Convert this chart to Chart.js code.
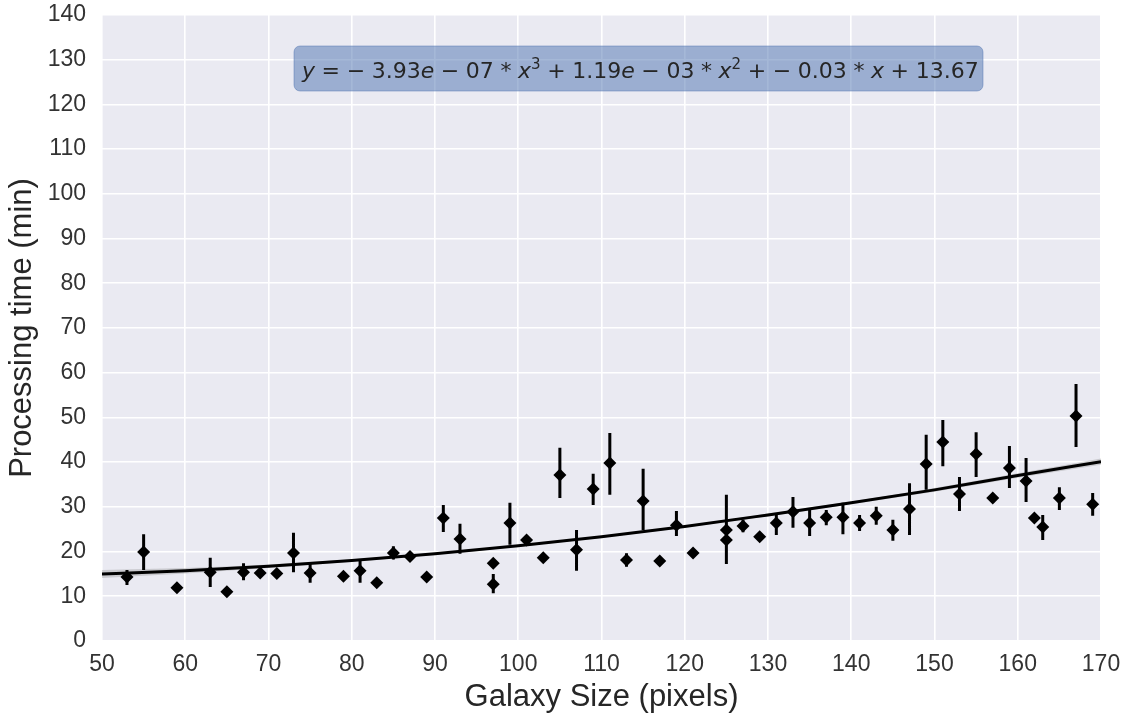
<!DOCTYPE html>
<html>
<head>
<meta charset="utf-8">
<script src="https://cdn.jsdelivr.net/npm/chart.js@4.4.1/dist/chart.umd.min.js"></script>
<style>
  html, body { margin: 0; padding: 0; background: #ffffff; }
  #wrap { width: 1128px; height: 715px; }
</style>
</head>
<body>
<div id="wrap"><canvas id="chart" width="1128" height="715"></canvas></div>
<script>
// measured points (galaxy size in pixels, processing time in minutes)
const sizes = [53, 55, 59, 63, 65, 67, 69, 71, 73, 75, 79, 81, 83, 85, 87, 89, 91, 93, 97, 97,
    99, 101, 103, 105, 107, 109, 111, 113, 115, 117, 119, 121, 125, 125, 127, 129, 131, 133, 135, 137,
    139, 141, 143, 145, 147, 149, 151, 153, 155, 157, 159, 161, 162, 163, 165, 167, 169];
const times = [14.3, 19.9, 11.9, 15.4, 11.0, 15.4, 15.2, 15.1, 19.7, 15.2, 14.5, 15.7, 13.0, 19.7, 18.9, 14.3, 27.5, 22.8, 17.4, 12.7,
    26.4, 22.6, 18.6, 37.1, 20.4, 34.0, 39.8, 18.1, 31.3, 17.9, 25.9, 19.7, 24.8, 22.6, 25.7, 23.3, 26.4, 28.9, 26.4, 27.7,
    27.7, 26.4, 28.0, 24.8, 29.5, 39.6, 44.5, 32.9, 41.8, 32.0, 38.7, 35.8, 27.5, 25.5, 32.0, 50.3, 30.6];
// error bar ends (null = no bar drawn)
const errLow = [12.5, 15.9, null, 12.1, null, 13.6, null, null, 15.4, 13.0, null, 13.0, null, 18.2, 17.9, null, 24.4, 19.5, null, 10.7,
    21.5, 21.6, null, 32.0, 15.7, 30.4, 32.7, 16.6, 24.8, null, 23.5, null, 21.5, 17.2, 24.3, null, 23.7, 25.3, 23.5, 25.9,
    23.9, 24.6, 26.0, 22.4, 23.7, 33.8, 39.1, 29.1, 36.7, 31.0, 34.2, 31.1, 26.8, 22.6, 29.3, 43.4, 28.0];
const errHigh = [15.9, 23.9, null, 18.6, null, 17.4, null, null, 24.2, 17.4, null, 18.1, null, 21.2, 19.9, null, 30.4, 26.2, null, 15.0,
    30.9, 23.6, null, 43.2, 24.8, 37.4, 46.5, 19.6, 38.5, null, 29.1, null, 32.7, 28.0, 27.1, null, 28.6, 32.2, 29.3, 29.3,
    30.9, 28.2, 30.0, 27.1, 35.3, 46.1, 49.4, 36.7, 46.7, 33.0, 43.6, 40.9, 28.2, 28.2, 34.4, 57.5, 33.1];

// fitted curve, with its shaded band
const fitX = [50, 60, 70, 80, 90, 100, 110, 120, 130, 140, 150, 160, 170];
const fitY = [15.0, 15.7, 16.7, 18.0, 19.5, 21.3, 23.3, 25.6, 28.2, 30.9, 33.8, 37.0, 40.1];
const bandLow = [14.1, 15.1, 16.3, 17.7, 19.3, 21.1, 23.1, 25.4, 27.9, 30.6, 33.4, 36.5, 39.4];
const bandHigh = [15.9, 16.3, 17.1, 18.3, 19.7, 21.5, 23.5, 25.8, 28.5, 31.2, 34.2, 37.5, 40.8];

const xTicks = [50, 60, 70, 80, 90, 100, 110, 120, 130, 140, 150, 160, 170];
const yTicks = [0, 10, 20, 30, 40, 50, 60, 70, 80, 90, 100, 110, 120, 130, 140];

const xTitle = 'Galaxy Size (pixels)';
const yTitle = 'Processing time (min)';
// equation label: [text, style]  (it = italic, up = upright, sup = superscript)
const equation = [
    ['y', 'it'], [' = \u2212 3.93', 'up'], ['e', 'it'], [' \u2212 07 * ', 'up'], ['x', 'it'], ['3', 'sup'],
    [' + 1.19', 'up'], ['e', 'it'], [' \u2212 03 * ', 'up'], ['x', 'it'], ['2', 'sup'],
    [' + \u2212 0.03 * ', 'up'], ['x', 'it'], [' + 13.67', 'up']
];

Chart.defaults.font.family = "'Liberation Sans', Arial, sans-serif";
Chart.defaults.color = '#333333';

const toPoints = (xs, ys) => xs.map((x, i) => ({ x: x, y: ys[i] }));

const plotBackground = {
    id: 'plotBackground',
    beforeDraw(chart) {
        const { ctx, chartArea: a } = chart;
        ctx.save();
        ctx.fillStyle = '#eaeaf2';
        ctx.fillRect(a.left, a.top, a.right - a.left, a.bottom - a.top);
        ctx.restore();
    }
};

const errorBars = {
    id: 'errorBars',
    beforeDatasetDraw(chart, args) {
        if (args.index !== 0) return;
        const { ctx, scales } = chart;
        ctx.save();
        ctx.strokeStyle = '#000000';
        ctx.lineWidth = 3;
        ctx.beginPath();
        sizes.forEach((x, i) => {
            if (errLow[i] === null) return;
            const px = scales.x.getPixelForValue(x);
            ctx.moveTo(px, scales.y.getPixelForValue(errLow[i]));
            ctx.lineTo(px, scales.y.getPixelForValue(errHigh[i]));
        });
        ctx.stroke();
        ctx.restore();
    }
};

const equationBox = {
    id: 'equationBox',
    afterDraw(chart) {
        const { ctx, chartArea: a } = chart;
        const size = 22;
        const gap = size * 0.3; // mathtext spacing is a bit narrower than a normal space
        const fonts = {
            it: 'italic ' + size + "px 'DejaVu Sans'",
            up: size + "px 'DejaVu Sans'",
            sup: Math.round(size * 0.7) + "px 'DejaVu Sans'"
        };
        const boxX = a.left + 192, boxY = a.top + 31, boxW = 689, boxH = 45;
        ctx.save();
        ctx.beginPath();
        ctx.roundRect(boxX, boxY, boxW, boxH, 6);
        ctx.fillStyle = 'rgba(76, 114, 176, 0.5)';
        ctx.fill();
        ctx.strokeStyle = 'rgba(76, 114, 176, 0.45)';
        ctx.lineWidth = 1;
        ctx.stroke();

        let x = boxX + 8;
        const base = boxY + 32;
        ctx.fillStyle = '#262626';
        ctx.textBaseline = 'alphabetic';
        equation.forEach(([txt, style]) => {
            ctx.font = fonts[style];
            const dy = style === 'sup' ? -size * 0.42 : 0;
            txt.split(' ').forEach((part, j) => {
                if (j > 0) x += gap;
                ctx.fillText(part, x, base + dy);
                x += ctx.measureText(part).width;
            });
        });
        ctx.restore();
    }
};

new Chart(document.getElementById('chart'), {
    type: 'scatter',
    data: {
        datasets: [
            {
                label: 'points',
                data: toPoints(sizes, times),
                pointStyle: 'rectRot',
                pointRadius: 6.5,
                pointBackgroundColor: '#000000',
                pointBorderWidth: 0
            },
            {
                type: 'line',
                label: 'fit',
                data: toPoints(fitX, fitY),
                borderColor: '#000000',
                borderWidth: 3,
                pointRadius: 0,
                cubicInterpolationMode: 'monotone',
                fill: false
            },
            {
                type: 'line',
                label: 'band high',
                data: toPoints(fitX, bandHigh),
                borderWidth: 0,
                pointRadius: 0,
                cubicInterpolationMode: 'monotone',
                backgroundColor: 'rgba(140, 140, 140, 0.35)',
                fill: '+1'
            },
            {
                type: 'line',
                label: 'band low',
                data: toPoints(fitX, bandLow),
                borderWidth: 0,
                pointRadius: 0,
                cubicInterpolationMode: 'monotone',
                fill: false
            }
        ]
    },
    options: {
        responsive: false,
        devicePixelRatio: 1,
        animation: false,
        layout: { padding: { left: 0, top: 15, right: 27, bottom: 0 } },
        plugins: {
            legend: { display: false },
            tooltip: { enabled: false }
        },
        scales: {
            x: {
                type: 'linear',
                min: 50,
                max: 170,
                afterBuildTicks: s => { s.ticks = xTicks.map(v => ({ value: v })); },
                afterFit: s => { s.height = 74; s.paddingLeft = 0; s.paddingRight = 0; },
                grid: { color: '#ffffff', lineWidth: 1.6, drawTicks: false },
                border: { display: false },
                ticks: { autoSkip: false, maxRotation: 0, padding: 10, color: '#333333', font: { size: 23 } },
                title: {
                    display: true,
                    text: xTitle,
                    color: '#262626',
                    font: { size: 31, lineHeight: 1 },
                    padding: { top: 0, bottom: 2 }
                }
            },
            y: {
                min: 0,
                max: 140,
                afterBuildTicks: s => { s.ticks = yTicks.map(v => ({ value: v })); },
                afterFit: s => { s.width = 102; s.paddingTop = 0; s.paddingBottom = 0; },
                grid: { color: '#ffffff', lineWidth: 1.6, drawTicks: false },
                border: { display: false },
                ticks: { padding: 16, color: '#333333', font: { size: 23 } },
                title: {
                    display: true,
                    text: yTitle,
                    color: '#262626',
                    font: { size: 31, lineHeight: 1 },
                    padding: { top: 7, bottom: 0 }
                }
            }
        }
    },
    plugins: [plotBackground, errorBars, equationBox]
});
</script>
</body>
</html>
